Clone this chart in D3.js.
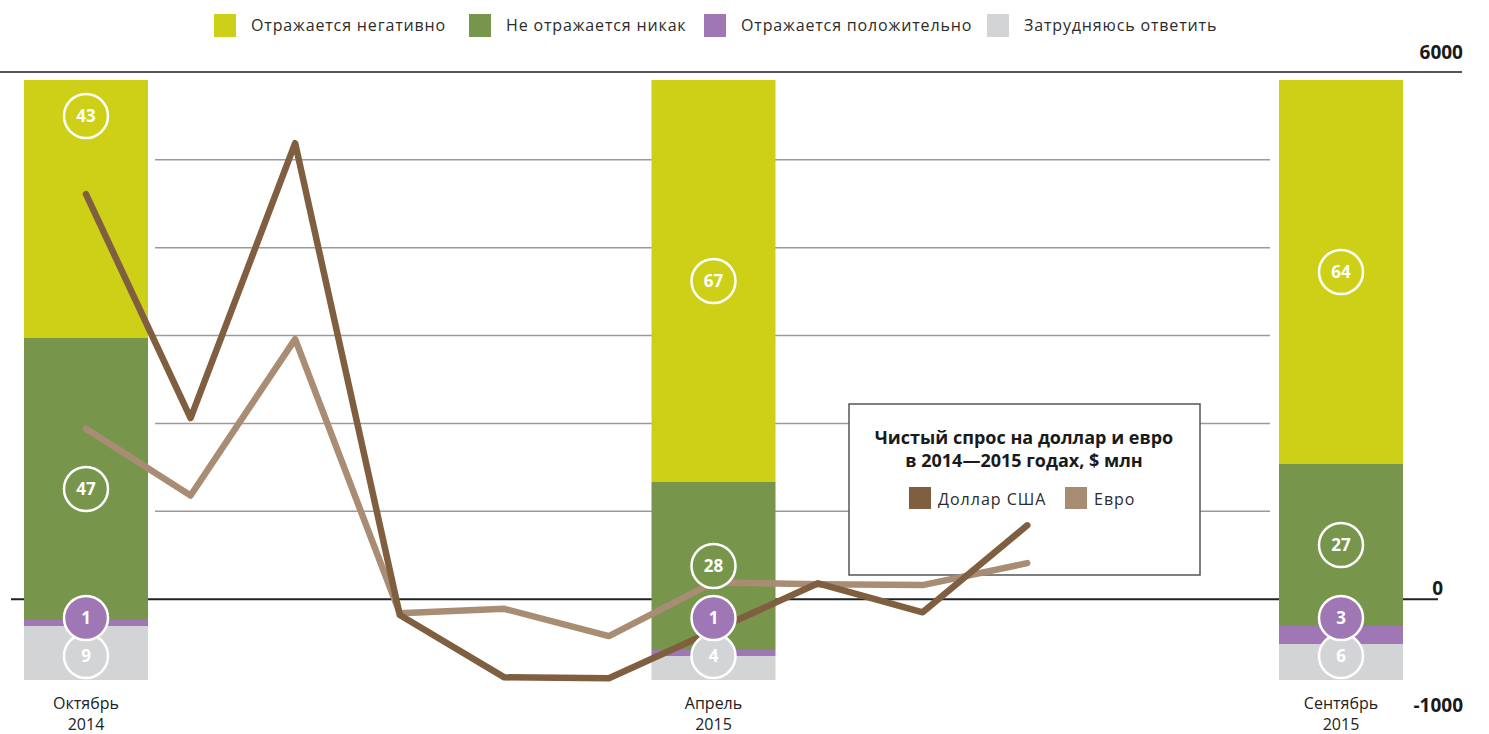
<!DOCTYPE html>
<html>
<script src="https://d3js.org/d3.v7.min.js"></script>

<head>
    <style>
        body {
            margin: 0;
            background: #fff;
            font-family: "Open Sans", Roboto, sans-serif;
        }
    </style>
</head>

<body>
    <div id="vis"></div>
</body>
<script>
    // monthly net demand, $ mln (Oct 2014 .. Jul 2015)
    const months = ["Окт 2014", "Ноя 2014", "Дек 2014", "Янв 2015", "Фев 2015", "Мар 2015", "Апр 2015", "Май 2015", "Июн 2015", "Июл 2015"];
    const dollar = [4610, 2060, 5190, -180, -890, -900, -360, 180, -150, 840];
    const euro = [1940, 1180, 2960, -160, -110, -420, 190, 170, 160, 410];

    // survey waves (month index on the same time axis)
    const surveys = ["Октябрь|2014", "Апрель|2015", "Сентябрь|2015"];
    const surveyMonth = [0, 6, 12];
    const categories = ["Отражается негативно", "Не отражается никак", "Отражается положительно", "Затрудняюсь ответить"];
    const negative = [43, 67, 64];
    const neutral = [47, 28, 27];
    const positive = [1, 1, 3];
    const unsure = [9, 4, 6];

    const valueTicks = [6000, 0, -1000];
    const gridValues = [1000, 2000, 3000, 4000, 5000];

    const width = 1489, height = 734;
    const colors = ["#cdd017", "#78964b", "#9f77b4", "#d3d4d6"];
    const dollarColor = "#7f5f40", euroColor = "#a98c74";

    const svg = d3.select("#vis").append("svg").attr("width", width).attr("height", height);

    const x = d3.scaleLinear().domain([0, 12]).range([86, 1341]);
    const y = d3.scaleLinear().domain([-1000, 6000]).range([687, 72]);
    const yPct = d3.scaleLinear().domain([0, 100]).range([680, 80]);
    const barW = 124;

    // legend
    const legend = svg.append("g");
    const legendX = [214, 469, 704, 987];
    categories.forEach((c, i) => {
        legend.append("rect").attr("x", legendX[i]).attr("y", 14).attr("width", 22).attr("height", 23).attr("fill", colors[i]);
        legend.append("text").attr("x", legendX[i] + 37).attr("y", 31)
            .attr("font-size", 16).attr("letter-spacing", 0.85).attr("fill", "#2b2b2b").text(c);
    });

    // axis lines
    svg.append("line").attr("x1", 0).attr("x2", 1462).attr("y1", y(6000)).attr("y2", y(6000))
        .attr("stroke", "#555").attr("stroke-width", 2);
    svg.selectAll(".grid").data(gridValues).join("line").attr("class", "grid")
        .attr("x1", 155).attr("x2", 1270).attr("y1", d => y(d)).attr("y2", d => y(d))
        .attr("stroke", "#9a9a9a").attr("stroke-width", 1.5);
    svg.append("line").attr("x1", 11).attr("x2", 1438).attr("y1", y(0)).attr("y2", y(0))
        .attr("stroke", "#222").attr("stroke-width", 2);
    svg.selectAll(".tick").data(valueTicks).join("text").attr("class", "tick")
        .attr("x", d => d === 0 ? 1443 : 1463)
        .attr("y", d => d === 6000 ? y(d) - 13 : d === 0 ? y(d) - 4 : y(d) + 25)
        .attr("text-anchor", "end").attr("font-size", 19).attr("font-weight", 700)
        .attr("fill", "#1a1a1a").text(d => d);

    // stacked survey bars
    const rows = surveys.map((s, i) => ({
        label: s, m: surveyMonth[i],
        neg: negative[i], neu: neutral[i], pos: positive[i], uns: unsure[i]
    }));
    const keys = ["uns", "pos", "neu", "neg"];
    const stack = d3.stack().keys(keys)(rows);
    const catIdx = { neg: 0, neu: 1, pos: 2, uns: 3 };

    const bars = svg.append("g");
    stack.forEach(layer => {
        bars.selectAll(null).data(layer).join("rect")
            .attr("x", d => x(d.data.m) - barW / 2)
            .attr("width", barW)
            .attr("y", d => yPct(d[1]))
            .attr("height", d => yPct(d[0]) - yPct(d[1]))
            .attr("fill", colors[catIdx[layer.key]]);
    });

    // survey date labels (two separate lines)
    rows.forEach(r => {
        r.label.split("|").forEach((p, i) => svg.append("text")
            .attr("x", x(r.m)).attr("y", 709 + i * 21)
            .attr("text-anchor", "middle").attr("font-size", 16).attr("fill", "#222").text(p));
    });

    // annotation box
    const box = svg.append("g");
    box.append("rect").attr("x", 849).attr("y", 404).attr("width", 351).attr("height", 171)
        .attr("fill", "#fff").attr("stroke", "#555").attr("stroke-width", 1.5);
    box.append("text").attr("x", 1024).attr("y", 444).attr("text-anchor", "middle")
        .attr("font-size", 18).attr("font-weight", 700).attr("fill", "#1a1a1a")
        .selectAll("tspan").data(["Чистый спрос на доллар и евро", "в 2014—2015 годах, $ млн"]).join("tspan")
        .attr("x", 1024).attr("dy", (d, i) => i ? 23 : 0).text(d => d);
    [["Доллар США", dollarColor, 909], ["Евро", euroColor, 1065]].forEach(([t, c, lx]) => {
        box.append("rect").attr("x", lx).attr("y", 487).attr("width", 22).attr("height", 22).attr("fill", c);
        box.append("text").attr("x", lx + 29).attr("y", 505).attr("font-size", 16)
            .attr("letter-spacing", 1).attr("fill", "#2b2b2b").text(t);
    });

    // lines
    const line = d3.line().x((d, i) => x(i)).y(d => y(d));
    [[euro, euroColor], [dollar, dollarColor]].forEach(([s, c]) => {
        svg.append("path").datum(s).attr("d", line).attr("fill", "none")
            .attr("stroke", c).attr("stroke-width", 6.5)
            .attr("stroke-linecap", "round").attr("stroke-linejoin", "round");
    });

    // value circles
    const labels = [];
    rows.forEach((r, i) => {
        let lo = 0;
        keys.forEach(k => {
            const v = r[k];
            let cy = yPct(lo + v / 2);
            if (k === "uns") cy = yPct(0) - 24;
            if (k === "pos") cy = yPct(0) - 62;
            if (i === 0 && k === "neg") cy = yPct(100) + 36;
            if (i === 0 && k === "neu") cy += 10;
            labels.push({ cx: x(r.m), cy, v, c: colors[catIdx[k]] });
            lo += v;
        });
    });
    const lg = svg.append("g").selectAll("g").data(labels).join("g")
        .attr("transform", d => `translate(${d.cx},${d.cy})`);
    lg.append("circle").attr("r", 22).attr("fill", d => d.c).attr("stroke", "#fff").attr("stroke-width", 2.5);
    lg.append("text").attr("text-anchor", "middle").attr("dy", "0.36em")
        .attr("font-size", 17).attr("font-weight", 700).attr("fill", "#fff").text(d => d.v);
</script>

</html>
